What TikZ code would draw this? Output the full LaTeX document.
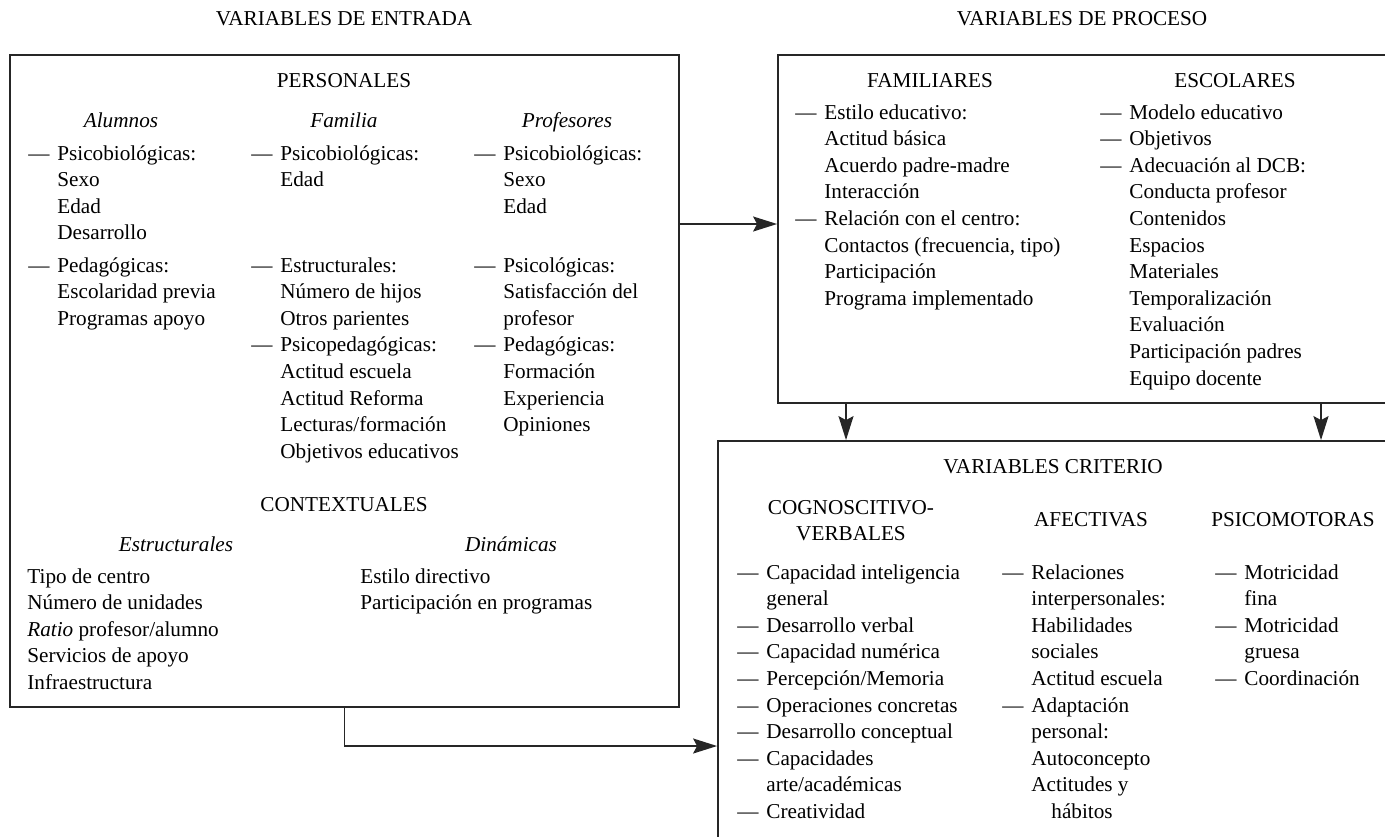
\documentclass[tikz,border=0pt]{standalone}
\usepackage{fontspec}
\setmainfont{Liberation Serif}
\usetikzlibrary{arrows.meta,fit}
\tikzset{
  box/.style={draw=black!85, line width=0.9pt, inner sep=0pt},
  head/.style={anchor=base, inner sep=0pt},
  sub/.style={anchor=base, inner sep=0pt, font=\fontsize{10.6}{13.3}\selectfont\itshape},
  item/.style={anchor=base west, inner sep=0pt},
  link/.style={draw=black!85, line width=0.9pt, -{Stealth[length=12pt,width=7.5pt,inset=2pt]}}
}
\newcommand{\vlist}[1]{\begin{tabular}[t]{@{}p{14.5pt}@{}l@{}}#1\end{tabular}}
\begin{document}
\begin{tikzpicture}[x=0.5pt, y=-0.5pt, font=\fontsize{10.6}{13.3}\selectfont]
\useasboundingbox (0,0) rectangle (1385,836);
\clip (0,0) rectangle (1385,836);

% Titles
\node[head] (tent) at (344,25) {VARIABLES DE ENTRADA};
\node[head] (tpro) at (1082,25) {VARIABLES DE PROCESO};

% Boxes
\node[box, fit={(10,55) (679,707)}] (entrada) {};
\node[box, fit={(778,55) (1400,403)}] (proceso) {};
\node[box, fit={(718,441) (1400,1051)}] (criterio) {};

% Entrada: personales
\node[head] (pers) at (344,87) {PERSONALES};
\node[sub] (alu) at (121,127) {Alumnos};
\node[sub] (fam) at (344,127) {Familia};
\node[sub] (prof) at (567,127) {Profesores};
\node[item] (alu1) at (28,160) {\vlist{--- & Psicobiológicas:\\ & Sexo\\ & Edad\\ & Desarrollo}};
\node[item] (alu2) at (28,272) {\vlist{--- & Pedagógicas:\\ & Escolaridad previa\\ & Programas apoyo}};
\node[item] (fam1) at (251,160) {\vlist{--- & Psicobiológicas:\\ & Edad}};
\node[item] (fam2) at (251,272) {\vlist{--- & Estructurales:\\ & Número de hijos\\ & Otros parientes\\
  --- & Psicopedagógicas:\\ & Actitud escuela\\ & Actitud Reforma\\ & Lecturas/formación\\ & Objetivos educativos}};
\node[item] (prof1) at (474,160) {\vlist{--- & Psicobiológicas:\\ & Sexo\\ & Edad}};
\node[item] (prof2) at (474,272) {\vlist{--- & Psicológicas:\\ & Satisfacción del\\ & profesor\\
  --- & Pedagógicas:\\ & Formación\\ & Experiencia\\ & Opiniones}};

% Entrada: contextuales
\node[head] (cont) at (344,511) {CONTEXTUALES};
\node[sub] (estr) at (176,551) {Estructurales};
\node[sub] (dina) at (511,551) {Dinámicas};
\node[item] (estr1) at (27,583) {\begin{tabular}[t]{@{}l@{}}Tipo de centro\\ Número de unidades\\
  \textit{Ratio} profesor/alumno\\ Servicios de apoyo\\ Infraestructura\end{tabular}};
\node[item] (dina1) at (360,583) {\begin{tabular}[t]{@{}l@{}}Estilo directivo\\ Participación en programas\end{tabular}};

% Proceso
\node[head] (famil) at (930,87) {FAMILIARES};
\node[head] (escol) at (1235,87) {ESCOLARES};
\node[item] (famil1) at (795,119) {\vlist{--- & Estilo educativo:\\ & Actitud básica\\ & Acuerdo padre-madre\\ & Interacción\\
  --- & Relación con el centro:\\ & Contactos (frecuencia, tipo)\\ & Participación\\ & Programa implementado}};
\node[item] (escol1) at (1100,119) {\vlist{--- & Modelo educativo\\ --- & Objetivos\\ --- & Adecuación al DCB:\\
  & Conducta profesor\\ & Contenidos\\ & Espacios\\ & Materiales\\ & Temporalización\\ & Evaluación\\
  & Participación padres\\ & Equipo docente}};

% Criterio
\node[head] (crit) at (1053,473) {VARIABLES CRITERIO};
\node[head] (cogn) at (851,514) {\begin{tabular}[t]{@{}c@{}}COGNOSCITIVO-\\ VERBALES\end{tabular}};
\node[head] (afec) at (1091,526) {AFECTIVAS};
\node[head] (psic) at (1293,526) {PSICOMOTORAS};
\node[item] (cogn1) at (737,579) {\vlist{--- & Capacidad inteligencia\\ & general\\ --- & Desarrollo verbal\\
  --- & Capacidad numérica\\ --- & Percepción/Memoria\\ --- & Operaciones concretas\\
  --- & Desarrollo conceptual\\ --- & Capacidades\\ & arte/académicas\\ --- & Creatividad}};
\node[item] (afec1) at (1002,579) {\vlist{--- & Relaciones\\ & interpersonales:\\ & Habilidades\\ & sociales\\
  & Actitud escuela\\ --- & Adaptación\\ & personal:\\ & Autoconcepto\\ & Actitudes y\\ & \hspace{10pt}hábitos}};
\node[item] (psic1) at (1215,579) {\vlist{--- & Motricidad\\ & fina\\ --- & Motricidad\\ & gruesa\\ --- & Coordinación}};

% Connectors
\coordinate (ain) at ([yshift=2.5pt]proceso.west);
\coordinate (dl) at (846,0);
\coordinate (dr) at (1321,0);
\draw[link] (entrada.east |- ain) -- (ain);
\draw[link] (proceso.south -| dl) -- (criterio.north -| dl);
\draw[link] (proceso.south -| dr) -- (criterio.north -| dr);
\draw[link] (entrada.south) |- (criterio.west);
\end{tikzpicture}
\end{document}
